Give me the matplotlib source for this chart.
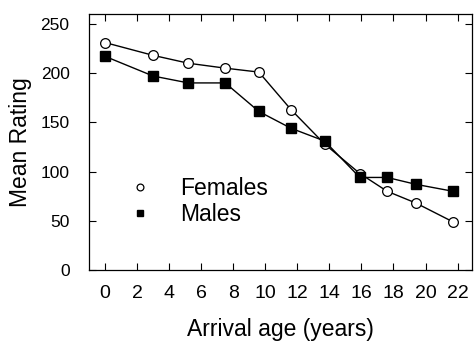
import matplotlib
matplotlib.use('Agg')
import matplotlib.pyplot as plt

# Mean rating by arrival age
arrival_age = [0, 3, 5.2, 7.5, 9.6, 11.6, 13.7, 15.9, 17.6, 19.4, 21.7]
females = [231, 218, 210, 205, 201, 163, 128, 98, 80, 68, 49]
males = [217, 197, 190, 190, 161, 144, 131, 94, 94, 87, 80]
x_ticks = list(range(0, 23, 2))
y_ticks = [0, 50, 100, 150, 200, 250]

plt.rcParams['font.family'] = ['Liberation Sans', 'DejaVu Sans']

fig = plt.figure(figsize=(4.75, 3.46), dpi=100)
ax = fig.add_axes([89 / 475, 1 - 270 / 346, (472 - 89) / 475, (270 - 14) / 346])

ax.plot(arrival_age, females, color='black', lw=1, marker='o', ms=7,
        mfc='white', mec='black', mew=0.9, label='Females')
ax.plot(arrival_age, males, color='black', lw=1, marker='s', ms=6.5,
        mfc='black', mec='black', label='Males')

ax.set_xlim(-1, 22.9)
ax.set_ylim(0, 260)
ax.set_xticks(x_ticks)
ax.set_yticks(y_ticks)
ax.tick_params(direction='in', top=True, right=True, length=5, width=0.8)
ax.tick_params(axis='x', labelsize=14, pad=11)
ax.tick_params(axis='y', labelsize=12.5, pad=14)
for s in ax.spines.values():
    s.set_linewidth(0.9)

ax.set_xlabel('Arrival age (years)', fontsize=16.5, labelpad=11)
ax.set_ylabel('Mean Rating', fontsize=16.5, labelpad=6)

# legend drawn as in the original: small markers with text
ax.legend(loc='upper left', bbox_to_anchor=(0.08, 0.445), frameon=False,
          handlelength=0, handletextpad=1.75, fontsize=16.5, labelspacing=0.15,
          markerscale=0.7)

fig.savefig('out.png', dpi=100)
